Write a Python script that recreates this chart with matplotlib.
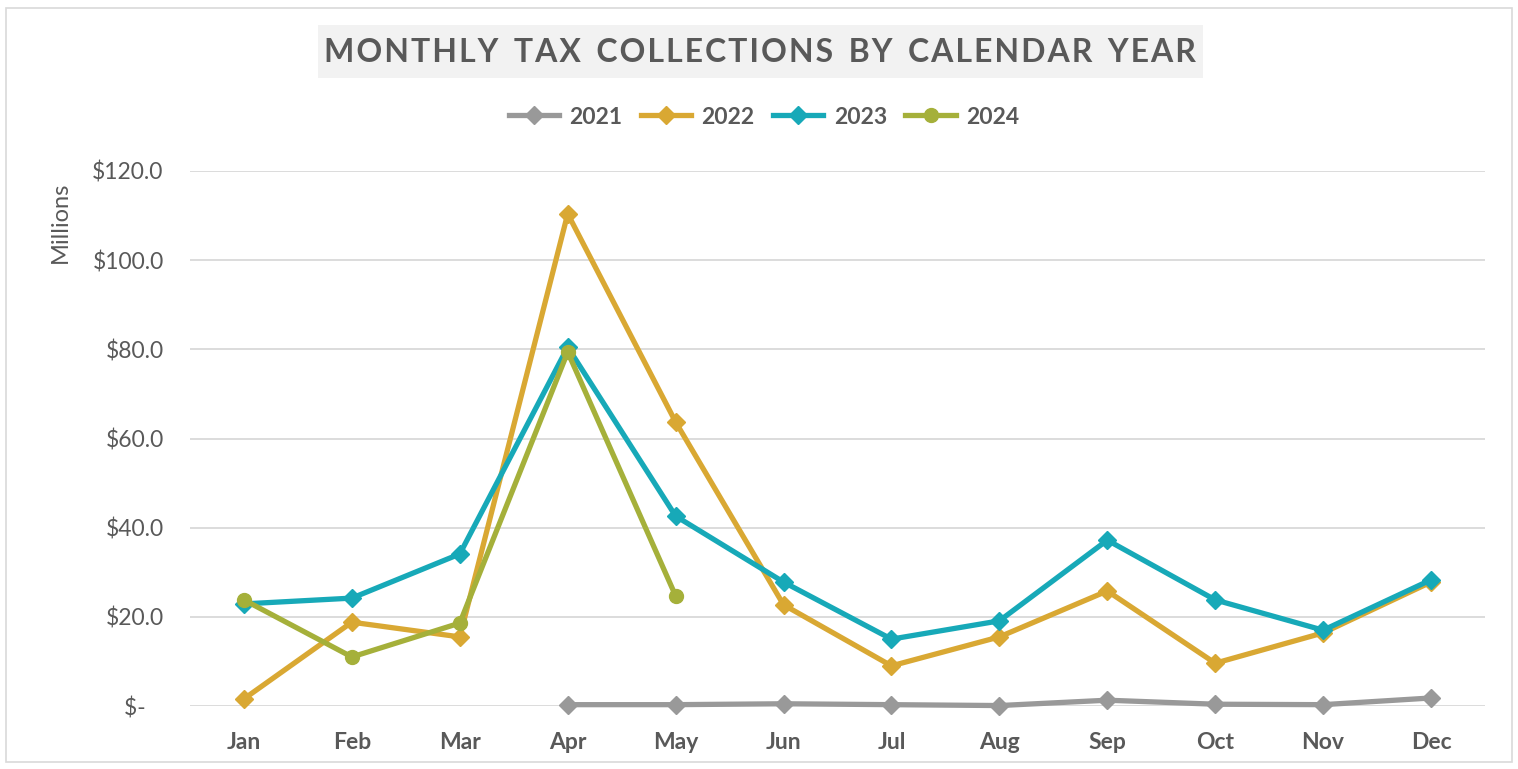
import matplotlib
matplotlib.use("Agg")
import matplotlib.pyplot as plt
import numpy as np
from matplotlib.patches import Rectangle

months = ["Jan", "Feb", "Mar", "Apr", "May", "Jun", "Jul", "Aug", "Sep", "Oct", "Nov", "Dec"]
y2021 = [None, None, None, 0.3, 0.3, 0.5, 0.3, 0.1, 1.3, 0.4, 0.3, 1.8]
y2022 = [1.6, 18.8, 15.5, 110.4, 63.7, 22.7, 9.0, 15.5, 25.8, 9.6, 16.4, 27.8]
y2023 = [22.9, 24.2, 34.1, 80.5, 42.6, 27.8, 15.0, 19.1, 37.2, 23.8, 17.0, 28.3]
y2024 = [23.8, 11.0, 18.6, 79.4, 24.7]
yticks = [0, 20, 40, 60, 80, 100, 120]
ytick_labels = ["$-   ", "$20.0", "$40.0", "$60.0", "$80.0", "$100.0", "$120.0"]
title = "MONTHLY TAX COLLECTIONS BY CALENDAR YEAR"

c2021 = "#999999"
c2022 = "#D9A833"
c2023 = "#17A9B8"
c2024 = "#A5B03A"
txt = "#595959"

plt.rcParams['font.family'] = ['Lato', 'DejaVu Sans']

fig = plt.figure(figsize=(15.18, 7.69), dpi=100)
fig.patches.append(Rectangle((6/1518, 1 - 762/769), 1506/1518, 754/769, transform=fig.transFigure,
                             fill=False, edgecolor="#D9D9D9", linewidth=1.2))
# title background box
fig.patches.append(Rectangle((318/1518, 1 - 78/769), 885/1518, 53/769, transform=fig.transFigure,
                             facecolor="#F2F2F2", edgecolor="none", zorder=0))
ax = fig.add_axes([190/1518, 1 - 706/769, 1295/1518, 535/769])

x = np.arange(len(months))

def arr(v):
    return np.array([np.nan if a is None else a for a in v], dtype=float)

lw = 3.8
ax.plot(x, arr(y2021), color=c2021, lw=lw, marker="D", ms=9, label="2021", clip_on=False, zorder=3)
ax.plot(x, arr(y2022), color=c2022, lw=lw, marker="D", ms=9, label="2022", clip_on=False, zorder=3)
ax.plot(x, arr(y2023), color=c2023, lw=lw, marker="D", ms=9, label="2023", clip_on=False, zorder=4)
ax.plot(x[:len(y2024)], arr(y2024), color=c2024, lw=lw, marker="o", ms=10, label="2024", clip_on=False, zorder=5)

ax.set_xlim(-0.5, 11.5)
ax.set_ylim(0, 120)
ax.set_yticks(yticks)
ax.set_yticklabels(ytick_labels, fontsize=16.5)
ax.set_xticks(x)
ax.set_xticklabels(months, fontweight="bold", fontsize=16.5)
ax.grid(axis="y", color="#D9D9D9", lw=1.3)
ax.set_axisbelow(True)
for s in ax.spines.values():
    s.set_visible(False)
ax.tick_params(axis="both", length=0, colors=txt)
ax.tick_params(axis="y", pad=19)
ax.tick_params(axis="x", pad=19)
ax.set_ylabel("Millions", color=txt, fontsize=17)
ax.yaxis.set_label_coords(-0.092, 0.905)

spaced = "\u200a".join(list(title)).replace("\u200a \u200a", "  ")
fig.text(760/1518, 1 - 52/769, spaced, ha="center", va="center", fontsize=23, fontweight="bold",
         color=txt)

fig.legend(loc="center", bbox_to_anchor=(764/1518, 1 - 117/769), ncol=4, frameon=False,
           prop={"weight": "bold", "size": 16.5}, labelcolor=txt, handlelength=2.2,
           columnspacing=0.8, handletextpad=0.45)

fig.savefig("out.png", dpi=100)
